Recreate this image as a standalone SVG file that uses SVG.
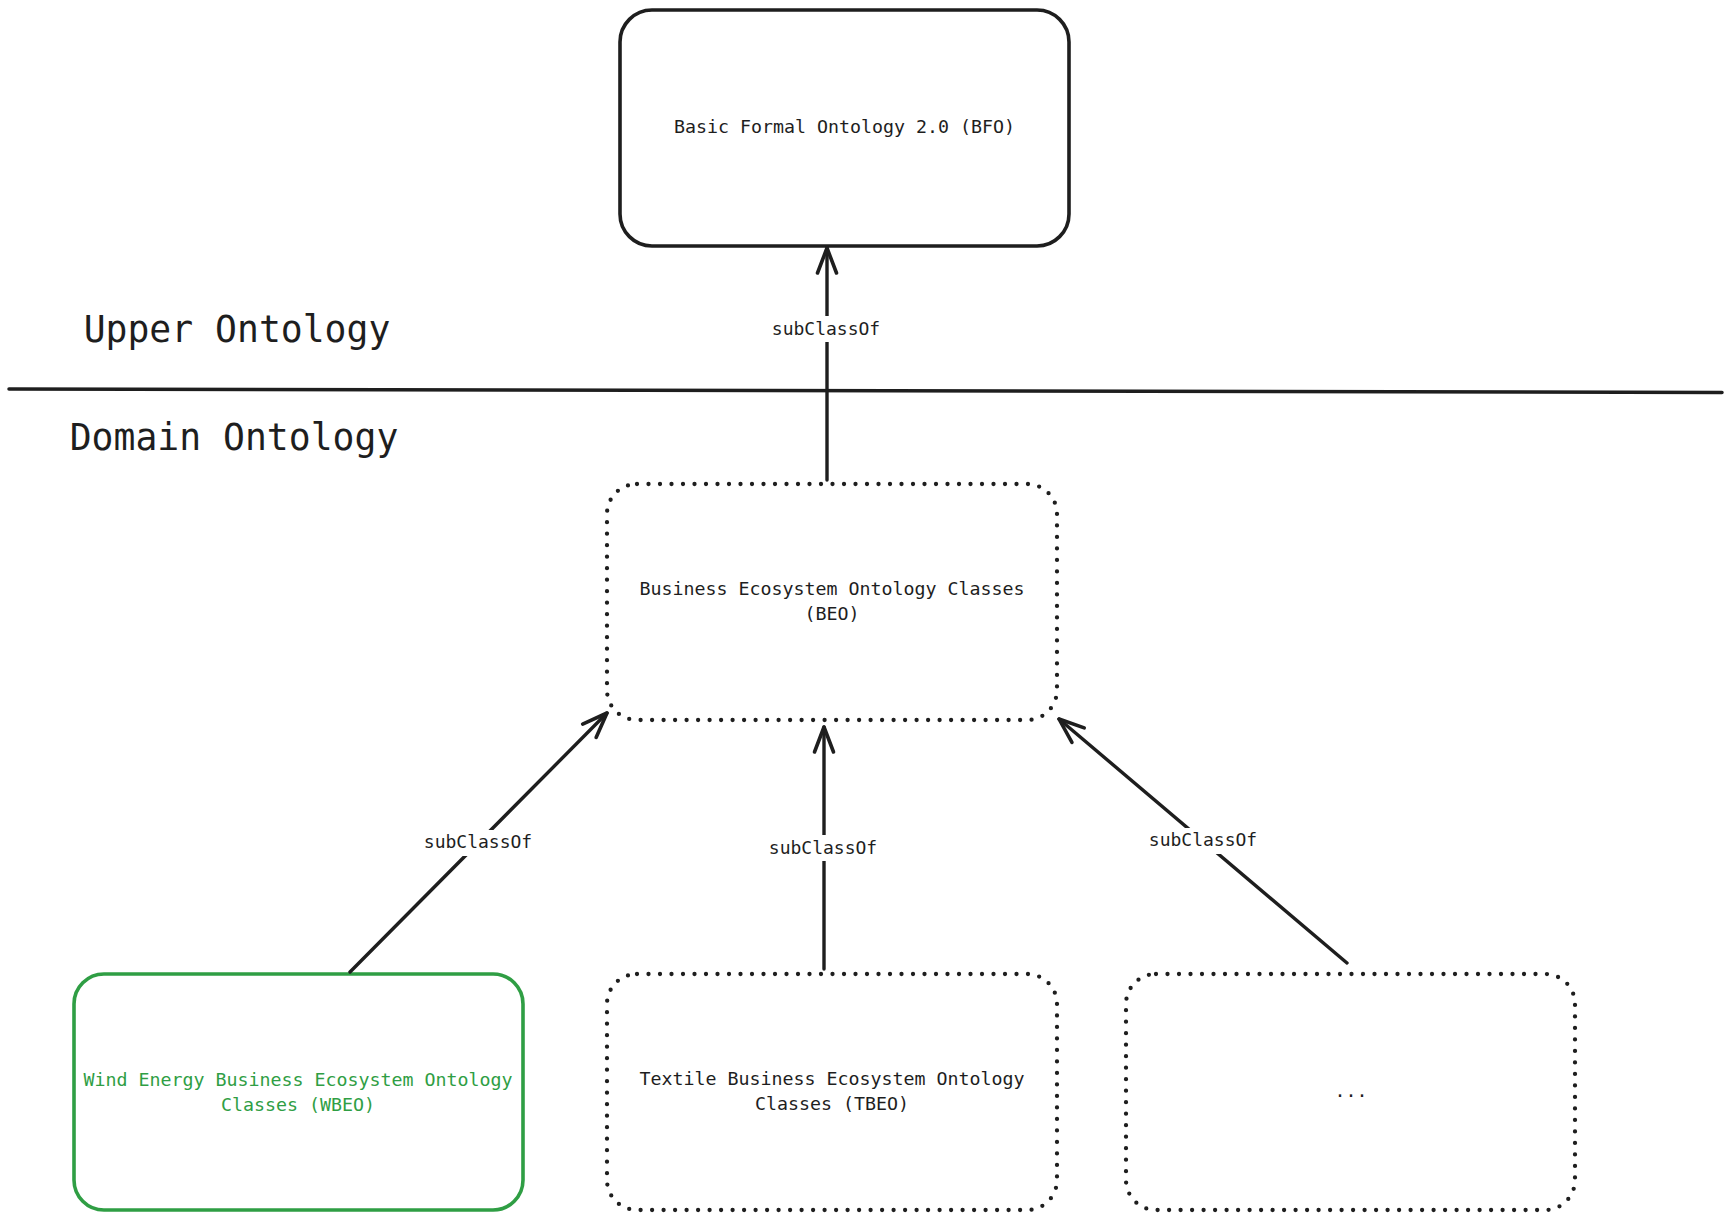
<svg xmlns="http://www.w3.org/2000/svg" width="1731" height="1220" viewBox="0 0 1731 1220">
<style>
.box{fill:none;stroke:#1e1e1e;stroke-width:3.6}
.dot{fill:none;stroke:#1e1e1e;stroke-width:4.3;stroke-linecap:round;stroke-dasharray:0 11.5}
.green{fill:none;stroke:#2f9e44;stroke-width:3.6}
.t{font-family:"DejaVu Sans Mono","Liberation Mono",monospace;font-size:18.3px;fill:#1e1e1e;text-anchor:middle}
.tg{fill:#2f9e44}
.lbl{font-family:"DejaVu Sans Mono","Liberation Mono",monospace;font-size:18px;fill:#1e1e1e;text-anchor:middle}
.big{font-family:"DejaVu Sans Mono","Liberation Mono",monospace;font-size:36.4px;fill:#1e1e1e;text-anchor:middle}
.edge{fill:none;stroke:#1e1e1e;stroke-width:3.4;stroke-linecap:round;marker-end:url(#arr)}
.bg{fill:#ffffff}
</style>
<defs>
<marker id="arr" markerUnits="userSpaceOnUse" orient="auto" markerWidth="40" markerHeight="40" refX="0" refY="0" viewBox="-30 -15 40 30" overflow="visible">
<path d="M -25 -9.5 L 0 0 L -25 9.5" fill="none" stroke="#1e1e1e" stroke-width="3.6" stroke-linecap="round" stroke-linejoin="round"/>
</marker>
</defs>
<rect width="1731" height="1220" fill="#ffffff"/>

<g id="divider">
<line x1="9" y1="389" x2="1722" y2="392.5" stroke="#1e1e1e" stroke-width="3.5" stroke-linecap="round"/>
<text class="big" x="237" y="342">Upper Ontology</text>
<text class="big" x="234" y="450">Domain Ontology</text>
</g>

<g id="node-bfo">
<rect class="box" x="620" y="10" width="449" height="236" rx="32"/>
<text class="t" x="844.5" y="133">Basic Formal Ontology 2.0 (BFO)</text>
</g>

<g id="node-beo">
<rect class="dot" x="607" y="484" width="450" height="236" rx="30"/>
<text class="t" x="832" y="595">Business Ecosystem Ontology Classes</text>
<text class="t" x="832" y="620">(BEO)</text>
</g>

<g id="node-wbeo">
<rect class="green" x="74" y="974" width="449" height="236" rx="30"/>
<text class="t tg" x="298" y="1085.5">Wind Energy Business Ecosystem Ontology</text>
<text class="t tg" x="298" y="1110.5">Classes (WBEO)</text>
</g>

<g id="node-tbeo">
<rect class="dot" x="607" y="974" width="450" height="236" rx="30"/>
<text class="t" x="832" y="1085">Textile Business Ecosystem Ontology</text>
<text class="t" x="832" y="1110">Classes (TBEO)</text>
</g>

<g id="node-more">
<rect class="dot" x="1126" y="974" width="449" height="236" rx="30"/>
<text class="t" x="1351" y="1097">...</text>
</g>

<g id="connectors">
<line class="edge" x1="827" y1="480" x2="827" y2="248"/>
<rect class="bg" x="768" y="316" width="118" height="26"/>
<text class="lbl" x="826" y="335">subClassOf</text>

<line class="edge" x1="350" y1="972" x2="607" y2="713"/>
<rect class="bg" x="419" y="830" width="118" height="26"/>
<text class="lbl" x="478" y="848">subClassOf</text>

<line class="edge" x1="824" y1="969" x2="824" y2="727"/>
<rect class="bg" x="765" y="835" width="118" height="26"/>
<text class="lbl" x="823" y="854">subClassOf</text>

<line class="edge" x1="1347" y1="963" x2="1059" y2="719"/>
<rect class="bg" x="1144" y="828" width="118" height="26"/>
<text class="lbl" x="1203" y="846">subClassOf</text>
</g>
</svg>
